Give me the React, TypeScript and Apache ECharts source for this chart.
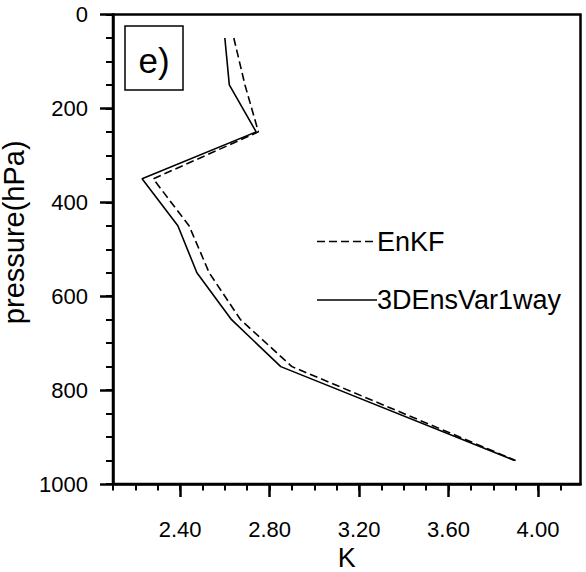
import React, { useEffect, useRef } from "react";
import * as echarts from "echarts";

const pressure = [50, 150, 250, 350, 450, 550, 650, 750, 950];
const enkf = [2.64, 2.69, 2.75, 2.28, 2.44, 2.53, 2.67, 2.9, 3.9];
const ensvar = [2.6, 2.62, 2.74, 2.23, 2.39, 2.475, 2.63, 2.85, 3.895];
const xMajorTicks = [2.4, 2.8, 3.2, 3.6, 4.0];
const xMinorTicks = [2.1, 2.2, 2.3, 2.4, 2.5, 2.6, 2.7, 2.8, 2.9, 3.0, 3.1, 3.2, 3.3, 3.4, 3.5, 3.6, 3.7, 3.8, 3.9, 4.0, 4.1];
const yMinorTicks = [0, 50, 100, 150, 200, 250, 300, 350, 400, 450, 500, 550, 600, 650, 700, 750, 800, 850, 900, 950, 1000];
const seriesNames = ["EnKF", "3DEnsVar1way"];
const panelLabel = "e)";

const FONT = "'Liberation Sans', Arial, Helvetica, sans-serif";

export default function App() {
  const ref = useRef<HTMLDivElement>(null);
  useEffect(() => {
    if (!ref.current) return;
    const chart = echarts.init(ref.current, undefined, { renderer: "svg" });
    const pairs = (xs: number[]) => xs.map((x, i) => [x, pressure[i]]);
    const legendX = 317;
    const legendLineW = 60;
    const legendRows = [241.5, 300];
    const legendGraphics: any[] = [];
    seriesNames.forEach((name, i) => {
      legendGraphics.push({
        type: "line",
        shape: { x1: legendX, y1: legendRows[i], x2: legendX + legendLineW, y2: legendRows[i] },
        style: { stroke: "#000", lineWidth: 1.6, lineDash: i === 0 ? [8, 4] : null },
        z: 10,
      });
      legendGraphics.push({
        type: "text",
        x: legendX + legendLineW,
        y: legendRows[i],
        z: 10,
        style: {
          text: name,
          font: `27px ${FONT}`,
          fill: "#000",
          textAlign: "left",
          textVerticalAlign: "middle",
        },
      });
    });
    chart.setOption({
      animation: false,
      backgroundColor: "#fff",
      textStyle: { fontFamily: FONT, color: "#000" },
      grid: {
        left: 113,
        top: 14.5,
        right: 5.5,
        bottom: 88,
        show: true,
        borderColor: "#000",
        borderWidth: 2.5,
        backgroundColor: "transparent",
        outerBoundsMode: "none",
        containLabel: false,
      },
      xAxis: [
        {
          type: "value",
          min: 2.1,
          max: 4.19,
          name: "K",
          nameLocation: "middle",
          nameGap: 52,
          nameTextStyle: { fontSize: 27, color: "#000", fontFamily: FONT },
          axisLine: { show: true, onZero: false, lineStyle: { color: "#000", width: 2.5 } },
          axisTick: {
            show: true,
            inside: false,
            customValues: xMajorTicks,
            length: 13,
            lineStyle: { color: "#000", width: 2.5 },
          },
          axisLabel: {
            customValues: xMajorTicks,
            formatter: (v: number) => v.toFixed(2),
            margin: 34,
            fontSize: 22,
            color: "#000",
            fontFamily: FONT,
          },
          splitLine: { show: false },
        },
        {
          type: "value",
          min: 2.1,
          max: 4.19,
          position: "bottom",
          offset: 0,
          axisLine: { show: false, onZero: false },
          axisTick: {
            show: true,
            inside: false,
            customValues: xMinorTicks,
            length: 6.5,
            lineStyle: { color: "#000", width: 2 },
          },
          axisLabel: { show: false },
          splitLine: { show: false },
        },
      ],
      yAxis: [
        {
          type: "value",
          inverse: true,
          min: 0,
          max: 1000,
          interval: 200,
          name: "pressure(hPa)",
          nameLocation: "middle",
          nameRotate: 90,
          nameGap: 80,
          nameTextStyle: { fontSize: 29, color: "#000", fontFamily: FONT, padding: [0, 0, 0, 34] },
          axisLine: { show: true, onZero: false, lineStyle: { color: "#000", width: 2.5 } },
          axisTick: { show: true, inside: false, length: 13, lineStyle: { color: "#000", width: 2.5 } },
          axisLabel: {
            margin: 25,
            fontSize: 22,
            color: "#000",
            fontFamily: FONT,
            formatter: (v: number) => String(v),
          },
          splitLine: { show: false },
        },
        {
          type: "value",
          inverse: true,
          min: 0,
          max: 1000,
          position: "left",
          offset: 0,
          axisLine: { show: false, onZero: false },
          axisTick: {
            show: true,
            inside: false,
            customValues: yMinorTicks,
            length: 7,
            lineStyle: { color: "#000", width: 2 },
          },
          axisLabel: { show: false },
          splitLine: { show: false },
        },
      ],
      series: [
        {
          name: seriesNames[0],
          type: "line",
          data: pairs(enkf),
          symbol: "none",
          lineStyle: { color: "#000", width: 1.6, type: [8, 4] },
        },
        {
          name: seriesNames[1],
          type: "line",
          data: pairs(ensvar),
          symbol: "none",
          lineStyle: { color: "#000", width: 1.6 },
        },
      ],
      graphic: [
        {
          type: "rect",
          shape: { x: 125, y: 26, width: 58, height: 64 },
          style: { fill: "#fff", stroke: "#000", lineWidth: 1.5 },
          z: 10,
        },
        {
          type: "text",
          x: 154,
          y: 60,
          z: 11,
          style: {
            text: panelLabel,
            font: `35px ${FONT}`,
            fill: "#000",
            textAlign: "center",
            textVerticalAlign: "middle",
          },
        },
        ...legendGraphics,
      ],
    });
    return () => chart.dispose();
  }, []);
  return <div ref={ref} style={{ width: 586, height: 572, position: "absolute", left: 0, top: 0 }} />;
}
